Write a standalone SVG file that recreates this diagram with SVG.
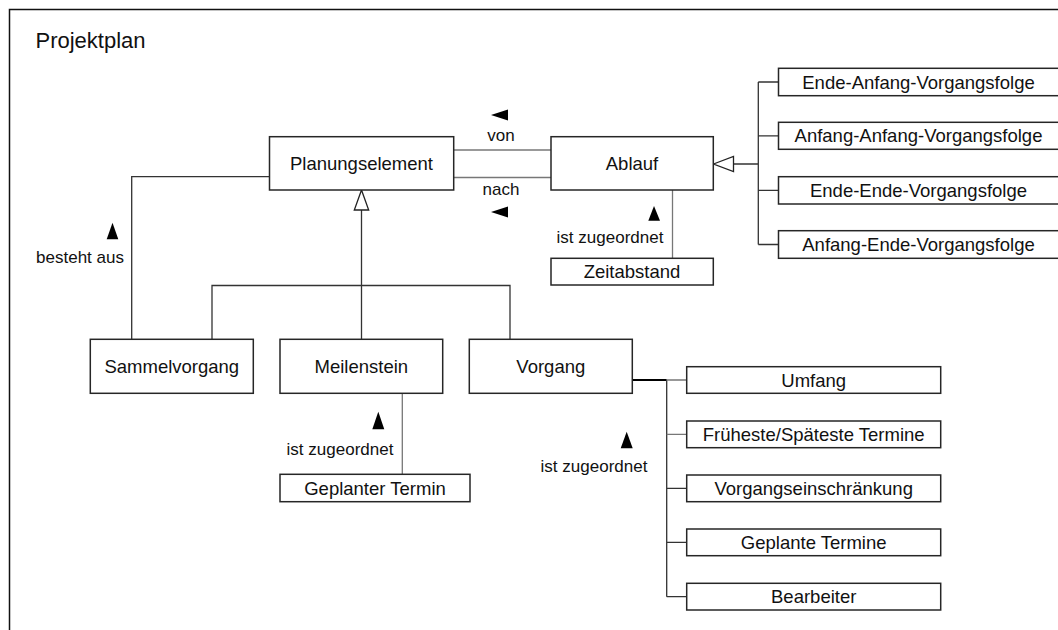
<svg xmlns="http://www.w3.org/2000/svg" width="1058" height="630" viewBox="0 0 1058 630">
  <style>
    .box { fill: #fff; stroke: #262626; stroke-width: 1.5; }
    .t { font-family: "Liberation Sans", Arial, sans-serif; font-size: 18.5px; fill: #111; text-anchor: middle; }
    .lbl { font-family: "Liberation Sans", Arial, sans-serif; font-size: 17px; fill: #111; text-anchor: middle; }
    .title { font-family: "Liberation Sans", Arial, sans-serif; font-size: 22px; fill: #111; }
    .ln { fill: none; stroke: #333; stroke-width: 1.3; }
    .gray { fill: none; stroke: #777; stroke-width: 1.3; }
    .dir { fill: #000; }
    .gen { fill: #fff; stroke: #222; stroke-width: 1.3; }
  </style>

  <!-- package frame -->
  <path d="M9.5 640 V9.5 H1070" fill="none" stroke="#111" stroke-width="1.5"/>
  <text class="title" x="35.5" y="48">Projektplan</text>

  <g id="connectors">
    <!-- von / nach associations -->
    <line class="gray" x1="454" y1="150" x2="551" y2="150"/>
    <line class="gray" x1="454" y1="177.5" x2="551" y2="177.5"/>
    <polygon class="dir" points="491,115 508,109.5 508,120.5"/>
    <text class="lbl" x="501" y="141">von</text>
    <text class="lbl" x="501" y="195">nach</text>
    <polygon class="dir" points="491,212 508,206.5 508,217.5"/>

    <!-- Ablauf - Zeitabstand -->
    <line class="gray" x1="672.5" y1="190" x2="672.5" y2="258.5"/>
    <polygon class="dir" points="654,206 648.3,220.7 660,220.7"/>
    <text class="lbl" x="610" y="243">ist zugeordnet</text>

    <!-- Ablauf specialisations -->
    <path class="ln" d="M758.3 82 V244.5 M758.3 82 H778.5 M758.3 135.8 H778.5 M758.3 190.3 H778.5 M758.3 244.5 H778.5 M758.3 164 H733.5"/>
    <polygon class="gen" points="713.5,164 733.5,156.5 733.5,171.5"/>

    <!-- Planungselement specialisations -->
    <path class="ln" d="M361.5 210 V285.5 M212 339.5 V285.5 H510 V339.5 M361.5 285.5 V339.5"/>
    <polygon class="gen" points="361.5,190 354.3,210 368.7,210"/>

    <!-- Sammelvorgang besteht aus Planungselement -->
    <path class="ln" d="M131.7 339.5 V176.7 H269.5"/>
    <polygon class="dir" points="112.5,222.7 106.7,239.3 118.3,239.3"/>
    <text class="lbl" x="80" y="262.5">besteht aus</text>

    <!-- Meilenstein - Geplanter Termin -->
    <line class="gray" x1="402.3" y1="393.5" x2="402.3" y2="474.5"/>
    <polygon class="dir" points="378.3,411.7 372.3,429.3 384.3,429.3"/>
    <text class="lbl" x="340" y="455">ist zugeordnet</text>

    <!-- Vorgang - details -->
    <line x1="632.5" y1="380" x2="666.7" y2="380" stroke="#000" stroke-width="2"/>
    <path class="ln" d="M666.7 380 V596.7 M666.7 488.3 H686.7 M666.7 542.3 H686.7 M666.7 596.7 H686.7"/>
    <path class="gray" d="M666.7 380 H686.7 M666.7 434.3 H686.7"/>
    <polygon class="dir" points="626.7,431.7 620.7,448.3 632.7,448.3"/>
    <text class="lbl" x="594" y="471.5">ist zugeordnet</text>
  </g>

  <g id="planungselement">
    <rect class="box" x="269.5" y="136.7" width="184.2" height="53.3"/>
    <text class="t" x="361.5" y="169.5">Planungselement</text>
  </g>
  <g id="ablauf">
    <rect class="box" x="551" y="136.7" width="162.3" height="53.3"/>
    <text class="t" x="632" y="169.5">Ablauf</text>
  </g>
  <g id="zeitabstand">
    <rect class="box" x="551" y="258.3" width="162.3" height="26.7"/>
    <text class="t" x="632" y="278">Zeitabstand</text>
  </g>

  <g id="ende-anfang">
    <rect class="box" x="778.5" y="68.3" width="290" height="27.4"/>
    <text class="t" x="918.5" y="88.5">Ende-Anfang-Vorgangsfolge</text>
  </g>
  <g id="anfang-anfang">
    <rect class="box" x="778.5" y="122.3" width="290" height="27"/>
    <text class="t" x="918.5" y="142.3">Anfang-Anfang-Vorgangsfolge</text>
  </g>
  <g id="ende-ende">
    <rect class="box" x="778.5" y="176.7" width="290" height="27.3"/>
    <text class="t" x="918.5" y="196.8">Ende-Ende-Vorgangsfolge</text>
  </g>
  <g id="anfang-ende">
    <rect class="box" x="778.5" y="230.7" width="290" height="27.6"/>
    <text class="t" x="918.5" y="251">Anfang-Ende-Vorgangsfolge</text>
  </g>

  <g id="sammelvorgang">
    <rect class="box" x="90.3" y="339.3" width="163" height="54"/>
    <text class="t" x="171.8" y="372.5">Sammelvorgang</text>
  </g>
  <g id="meilenstein">
    <rect class="box" x="280" y="339.3" width="162.7" height="54"/>
    <text class="t" x="361.3" y="372.5">Meilenstein</text>
  </g>
  <g id="vorgang">
    <rect class="box" x="469.3" y="339.3" width="163" height="54"/>
    <text class="t" x="550.8" y="372.5">Vorgang</text>
  </g>
  <g id="geplanter-termin">
    <rect class="box" x="280" y="474.3" width="190" height="27.4"/>
    <text class="t" x="375" y="494.5">Geplanter Termin</text>
  </g>

  <g id="umfang">
    <rect class="box" x="686.7" y="366.7" width="254" height="26.6"/>
    <text class="t" x="813.7" y="386.5">Umfang</text>
  </g>
  <g id="termine-frueh-spaet">
    <rect class="box" x="686.7" y="421" width="254" height="26.7"/>
    <text class="t" x="813.7" y="440.8">Früheste/Späteste Termine</text>
  </g>
  <g id="vorgangseinschraenkung">
    <rect class="box" x="686.7" y="475" width="254" height="26.7"/>
    <text class="t" x="813.7" y="494.8">Vorgangseinschränkung</text>
  </g>
  <g id="geplante-termine">
    <rect class="box" x="686.7" y="529" width="254" height="26.7"/>
    <text class="t" x="813.7" y="548.8">Geplante Termine</text>
  </g>
  <g id="bearbeiter">
    <rect class="box" x="686.7" y="583.3" width="254" height="26.7"/>
    <text class="t" x="813.7" y="603">Bearbeiter</text>
  </g>
</svg>
